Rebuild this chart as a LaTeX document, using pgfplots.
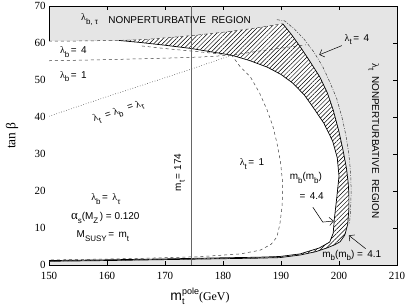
\documentclass[border=0pt]{standalone}
\usepackage{pgfplots}
\pgfplotsset{compat=1.18}
\usepackage{fontspec}
\setmainfont{Liberation Serif}
\setsansfont{Liberation Sans}
\usetikzlibrary{patterns.meta,arrows.meta}
\definecolor{bggray}{RGB}{229,229,229}
\newcommand\lam{{\rmfamily λ}}
\newcommand\sub[1]{\raisebox{-0.65ex}{\fontsize{8}{8}\selectfont #1}}
\begin{document}
\begin{tikzpicture}
\begin{axis}[
 scale only axis, width=348bp, height=259bp,
 xmin=150,xmax=210,ymin=0,ymax=70,
 xtick={150,160,...,210}, ytick={0,10,...,70},
 tick align=inside, major tick length=4bp,
 tick style={black, line width=0.5pt},
 axis line style={line width=0.6pt},
 axis background/.style={fill=bggray},
 tick label style={font=\fontsize{11}{13}\selectfont},
 /pgf/number format/assume math mode=true,
 xticklabel style={yshift=-4bp},
 xlabel={{\sffamily\fontsize{14}{16}\selectfont m}{\sffamily\fontsize{9}{9}\selectfont\rlap{\raisebox{-0.7ex}{t}}\raisebox{1.3ex}{pole}}{\fontsize{12}{14}\selectfont(GeV)}},
 xlabel style={at={(axis description cs:0.434,-0.12)},anchor=center},
 ylabel={{\fontsize{13.5}{15}\selectfont tan β}},
 ylabel style={at={(axis description cs:-0.106,0.5)},anchor=center,rotate=0},
]
% white allowed region (outer curve, m_b=4.1, and lambda_b=4 top)
\addplot[fill=white, draw=none] coordinates {
(150,1.0)(160,1.2)(170,1.45)(180,1.7)(186,1.85)(189.8,2.0)(193.3,2.7)(196,3.6)(197.9,4.6)(199.3,5.5)(200.2,6.3)(201,8.1)(201.5,11)(201.7,15)(201.7,19)(201.6,22)(201.3,26)(200.7,31)(200,36)(199,41.9)(198,46.5)(196.7,50.8)(195,55)(193.3,59)(191.8,62.3)(190.3,65.2)
(185,63.9)(180,62.9)(174.6,62.0)(167,61.0)(162,60.7)(156,60.55)(150,60.5)} -- cycle;
% hatched band
\addplot[pattern={Lines[angle=45,distance=3.1bp,line width=0.5bp]}, draw=none] coordinates {
(150,1.0)(160,1.2)(170,1.45)(180,1.7)(186,1.85)(189.8,2.0)(193.3,2.7)(196,3.6)(197.9,4.6)(199.3,5.5)(200.2,6.3)(201,8.1)(201.5,11)(201.7,15)(201.7,19)(201.6,22)(201.3,26)(200.7,31)(200,36)(199,41.9)(198,46.5)(196.7,50.8)(195,55)(193.3,59)(191.8,62.3)(190.3,65.2)
(185,63.9)(180,62.9)(174.6,62.0)(167,61.0)(162,60.7)(156,60.55)(150,60.5)} -- cycle;
% inner white region (m_b=4.4)
\addplot[fill=white, draw=none] coordinates {
(150,1.2)(160,1.4)(170,1.65)(180,1.95)(186,2.1)(189.8,2.3)(193.3,3.0)(196.6,4.6)(198.4,6.2)(199,8.6)(199.2,12.5)(199.6,18)(200.0,24)(199.7,29)(198.9,33.5)(197.4,38.3)(195.5,42.7)(194,46)(192,49.2)(190,51.5)(187.6,53.5)(184.5,55.3)(181.5,56.7)
(178,57.6)(174.6,58.5)(170,59.4)(166,60.1)(162,60.7)(156,60.55)(150,60.5)} -- cycle;
% outer solid boundary
\addplot[black, line width=0.7pt] coordinates {
(150,1.0)(160,1.2)(170,1.45)(180,1.7)(186,1.85)(189.8,2.0)(193.3,2.7)(196,3.6)(197.9,4.6)(199.3,5.5)(200.2,6.3)(201,8.1)(201.5,11)(201.7,15)(201.7,19)(201.6,22)(201.3,26)(200.7,31)(200,36)(199,41.9)(198,46.5)(196.7,50.8)(195,55)(193.3,59)(191.8,62.3)(190.3,65.2)};
% inner solid boundary
\addplot[black, line width=0.7pt] coordinates {
(150,1.2)(160,1.4)(170,1.65)(180,1.95)(186,2.1)(189.8,2.3)(193.3,3.0)(196.6,4.6)(198.4,6.2)(199,8.6)(199.2,12.5)(199.6,18)(200.0,24)(199.7,29)(198.9,33.5)(197.4,38.3)(195.5,42.7)(194,46)(192,49.2)(190,51.5)(187.6,53.5)(184.5,55.3)(181.5,56.7)
(178,57.6)(174.6,58.5)(170,59.4)(166,60.1)(162,60.7)};
% lambda_b = 4 (top boundary)
\addplot[black!75, dashed, line width=0.5pt] coordinates {
(150,60.5)(156,60.55)(162,60.7)(167,61.0)(174.6,62.0)(180,62.9)(185,63.9)(190.3,65.2)};
% lambda_b = 1
\addplot[black!75, dashed, line width=0.5pt] coordinates {
(150,55.2)(160,55.5)(170,55.9)(176,56.2)(181.5,56.7)(187,58.0)(194.3,59.5)};
% lambda_t = 1
\addplot[black!75, dashed, line width=0.5pt] coordinates {
(166,59.2)(170,58.5)(176,57.6)(181.5,56.7)(183,53.5)(184.7,50.9)(186.3,46.5)(187.6,41.9)(188.6,37.5)(189.3,33)(189.9,28)(190.3,22)(190.2,16)(189.8,11)(189.3,7.6)(188.3,5.6)(186.4,4.0)(183,3.0)(176,2.25)(165,1.75)(150,1.35)};
% lambda_t = 4
\addplot[black!75, dash pattern=on 3pt off 1.5pt on 0.8pt off 1.5pt, line width=0.5pt] coordinates {
(189.3,66.3)(190.6,66.0)(192.3,63.8)(194,61)(195.7,57.5)(197.2,53.6)(198.4,49.5)(199.6,45)(200.5,40)(201.2,35)(201.7,30)(202.0,25)(202.1,20)(202.0,15)(201.8,11)};
% lambda_t = lambda_b = lambda_tau
\addplot[black!75, dotted, line width=0.6pt] coordinates {
(150,40.2)(160,45.5)(170,50.6)(175,53.2)(181.5,56.7)};
% m_t = 174
\addplot[black!60, line width=0.6pt] coordinates {(174.5,0)(174.5,70)};
% texts
\begin{scope}[every node/.style={font=\sffamily\fontsize{10}{12}\selectfont, inner sep=0pt}]
\node at (axis cs:157,66.3) {\lam\sub{b, τ}};
\node[anchor=west] at (axis cs:160.2,66.3) {NONPERTURBATIVE\ \ REGION};
\node at (axis cs:154.2,57.6) {\lam\sub{b}\,= \,4};
\node at (axis cs:154.2,51.0) {\lam\sub{b}\,= \,1};
\node[rotate=18] at (axis cs:162,41.3) {\lam\sub{t}\ \ = \lam\sub{b}\ \ = \lam\sub{τ}};
\node[rotate=90] at (axis cs:172.5,25) {m\sub{t}\,= 174};
\node at (axis cs:159.8,17.8) {\lam\sub{b}\,= \,\lam\sub{τ}};
\node at (axis cs:159.7,12.7) {{\rmfamily\fontsize{13}{13}\selectfont α}\sub{s}(M\sub{Z}\,) = 0.120};
\node at (axis cs:159.3,7.8) {M\sub{SUSY}\,= \,m\sub{t}};
\node at (axis cs:185,27.3) {\lam\sub{t}\,= \,1};
\node at (axis cs:194.3,23.5) {m\sub{b}(m\sub{b})};
\node at (axis cs:195.3,18.6) {= \,4.4};
\node at (axis cs:202.2,2.6) {m\sub{b}(m\sub{b}) = \,4.1};
\node at (axis cs:203.1,61) {\lam\sub{t}\,= \,4};
\node[rotate=-90] at (axis cs:206,33.5) {\lam\sub{t}\ \ NONPERTURBATIVE\ \ REGION};
\end{scope}
\draw[-{Straight Barb[length=4bp]}, line width=0.5pt] (axis cs:195.5,15.6) -- (axis cs:197.2,11.6) -- (axis cs:199.1,11.9);
\draw[-{Straight Barb[length=4bp]}, line width=0.5pt] (axis cs:204.6,4.4) -- (axis cs:201.7,8.0);
\draw[-{Straight Barb[length=4bp]}, line width=0.5pt] (axis cs:200.5,59.3) -- (axis cs:196.6,56.8);
\end{axis}
\pgfresetboundingbox
\path ([shift={(-49bp,-42bp)}]current axis.south west) rectangle ([shift={(12bp,6bp)}]current axis.north east);
\end{tikzpicture}
\end{document}
